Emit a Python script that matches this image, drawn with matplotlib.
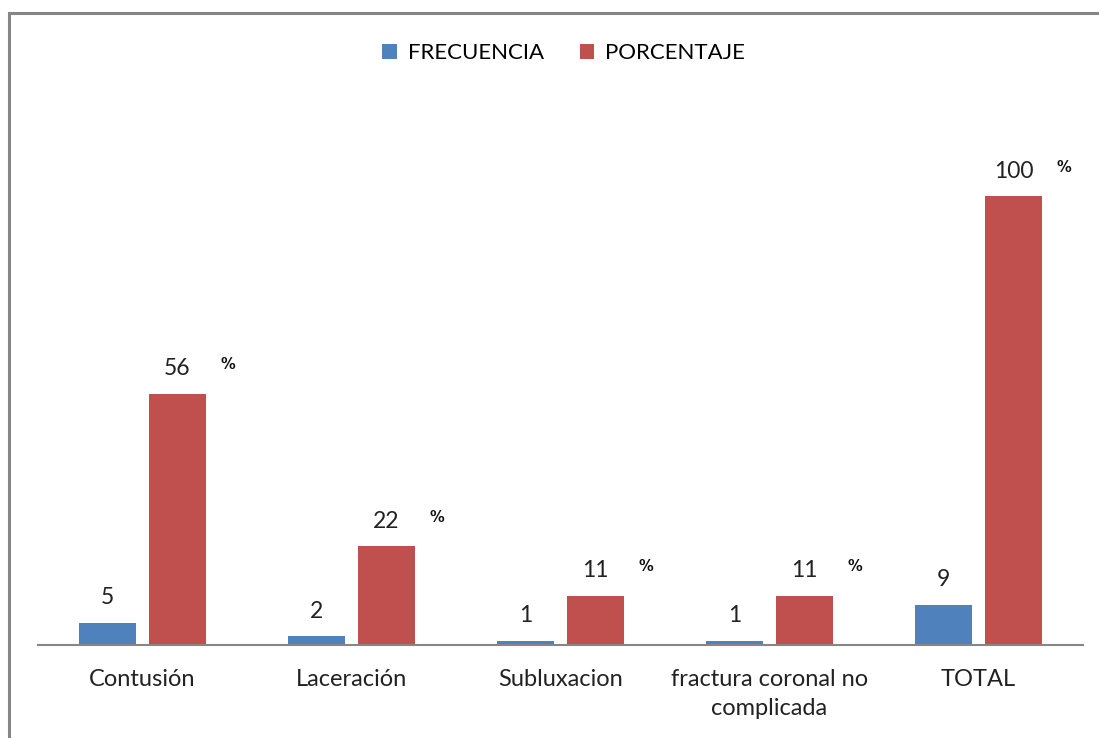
import matplotlib
matplotlib.use("Agg")

import matplotlib.pyplot as plt
import numpy as np
from matplotlib.patches import Rectangle

categories = ["Contusión", "Laceración", "Subluxacion", "fractura coronal no\ncomplicada", "TOTAL"]
frecuencia = [5, 2, 1, 1, 9]
porcentaje = [56, 22, 11, 11, 100]

BLUE = "#4F81BD"
RED = "#C0504D"
GRAY = "#868686"

plt.rcParams["font.family"] = ["Lato", "DejaVu Sans"]

fig = plt.figure(figsize=(10.99, 7.38), dpi=100)
ax = fig.add_axes([0.0346, 0.126, 0.9509, 0.730])

x = np.arange(len(categories))
w = 0.27
off = 0.167
ax.bar(x - off, frecuencia, w, color=BLUE, label="FRECUENCIA")
ax.bar(x + off, porcentaje, w, color=RED, label="PORCENTAJE")

for xi, v in zip(x, frecuencia):
    ax.text(xi - off, v + 3.2, str(v), ha="center", va="bottom", fontsize=16.5, color="#222222")
for xi, v in zip(x, porcentaje):
    ax.text(xi + off, v + 3.2, str(v), ha="center", va="bottom", fontsize=16.5, color="#222222")
    ax.text(xi + off + 0.24, v + 4.8, "%", ha="center", va="bottom", fontsize=10.5,
            fontweight="bold", family="DejaVu Sans", color="#111111")

ax.set_xlim(-0.5, len(categories) - 0.5)
ax.set_ylim(0, 120)
ax.set_yticks([])
ax.set_xticks(x)
ax.set_xticklabels(categories, fontsize=17, color="#222222", linespacing=1.5)
ax.tick_params(axis="x", length=0, pad=17)
for side in ["top", "right", "left"]:
    ax.spines[side].set_visible(False)
ax.spines["bottom"].set_color(GRAY)
ax.spines["bottom"].set_linewidth(1.5)

fig.legend(loc="center", bbox_to_anchor=(0.513, 0.928), ncol=2, frameon=False,
           fontsize=16, handlelength=0.65, handleheight=0.65, handletextpad=0.5,
           columnspacing=1.6)

# chart border
fig.patches.append(Rectangle((9 / 1099, -0.1), 1.2, 1.1 - 13 / 738, transform=fig.transFigure,
                             fill=False, edgecolor=GRAY, linewidth=2.2))

fig.savefig("out.png", dpi=100)
